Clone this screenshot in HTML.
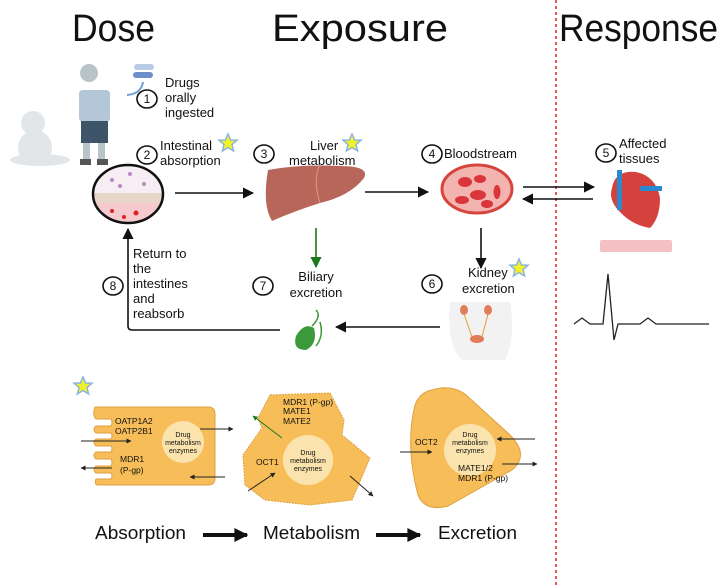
<!DOCTYPE html>
<html><head><meta charset="utf-8"><style>
html,body{margin:0;padding:0;background:#fff}
svg{display:block}
text{font-family:"Liberation Sans",sans-serif;fill:#111}
</style></head><body>
<svg width="726" height="587" viewBox="0 0 726 587" xmlns="http://www.w3.org/2000/svg">
<defs>
<marker id="a" viewBox="0 0 10 10" refX="9" refY="5" markerWidth="7" markerHeight="7" orient="auto"><path d="M0,0 L10,5 L0,10 z" fill="#111"/></marker>
<marker id="t" viewBox="0 0 10 10" refX="9" refY="5" markerUnits="userSpaceOnUse" markerWidth="16" markerHeight="14" orient="auto"><path d="M0,0 L10,5 L0,10 z" fill="#111"/></marker>
<marker id="g" viewBox="0 0 10 10" refX="9" refY="5" markerWidth="7" markerHeight="7" orient="auto"><path d="M0,0 L10,5 L0,10 z" fill="#1a7a1a"/></marker>
<marker id="s" viewBox="0 0 10 10" refX="9" refY="5" markerWidth="5" markerHeight="5" orient="auto"><path d="M0,0 L10,5 L0,10 z" fill="#222"/></marker>
<marker id="gs" viewBox="0 0 10 10" refX="9" refY="5" markerWidth="5" markerHeight="5" orient="auto"><path d="M0,0 L10,5 L0,10 z" fill="#1a7a1a"/></marker>
<g id="star"><polygon points="0,-9 2.6,-3 9,-2.8 4,1.5 5.6,8 0,4.5 -5.6,8 -4,1.5 -9,-2.8 -2.6,-3" fill="#f2f22a" stroke="#8ab4e0" stroke-width="1.5"/></g>
</defs>

<text x="72" y="41" font-size="38" textLength="83" lengthAdjust="spacingAndGlyphs">Dose</text>
<text x="272" y="41" font-size="38" textLength="176" lengthAdjust="spacingAndGlyphs">Exposure</text>
<text x="559" y="41" font-size="38" textLength="159" lengthAdjust="spacingAndGlyphs">Response</text>
<line x1="556" y1="0" x2="556" y2="587" stroke="#e02020" stroke-width="1.5" stroke-dasharray="3,3"/>

<!-- baby -->
<g fill="#e2e6e9">
<circle cx="33" cy="123" r="12"/>
<ellipse cx="35" cy="148" rx="17" ry="18"/>
<ellipse cx="40" cy="160" rx="30" ry="6"/>
</g>
<!-- child -->
<circle cx="89" cy="73" r="9" fill="#b9c4c8"/>
<rect x="79" y="90" width="31" height="32" rx="4" fill="#b3c7d9"/>
<rect x="81" y="121" width="27" height="22" fill="#3e5468"/>
<rect x="83" y="143" width="7" height="18" fill="#b9c4c8"/><rect x="98" y="143" width="7" height="18" fill="#b9c4c8"/>
<rect x="80" y="159" width="11" height="6" fill="#555"/><rect x="97" y="159" width="11" height="6" fill="#555"/>
<rect x="134" y="64" width="20" height="6" rx="3" fill="#b7cde6"/>
<rect x="133" y="72" width="20" height="6" rx="3" fill="#6f8fca"/>
<path d="M143,82 Q141,94 127,95" stroke="#6f9fd8" stroke-width="2" fill="none"/>

<g fill="none" stroke="#111" stroke-width="1.6">
<ellipse cx="147" cy="99" rx="10" ry="9"/>
<ellipse cx="147" cy="155" rx="10" ry="9"/>
<ellipse cx="264" cy="154" rx="10" ry="9"/>
<ellipse cx="432" cy="154" rx="10" ry="9"/>
<ellipse cx="606" cy="153" rx="10" ry="9"/>
<ellipse cx="432" cy="284" rx="10" ry="9"/>
<ellipse cx="263" cy="286" rx="10" ry="9"/>
<ellipse cx="113" cy="286" rx="10" ry="9"/>
</g>
<g font-size="12" text-anchor="middle">
<text x="147" y="103">1</text><text x="147" y="159">2</text><text x="264" y="158">3</text>
<text x="432" y="158">4</text><text x="606" y="157">5</text><text x="432" y="288">6</text>
<text x="263" y="290">7</text><text x="113" y="290">8</text>
</g>
<g font-size="13">
<text x="165" y="87">Drugs</text><text x="165" y="102">orally</text><text x="165" y="117">ingested</text>
<text x="160" y="150">Intestinal</text><text x="160" y="165">absorption</text>
<text x="310" y="150">Liver</text><text x="289" y="165">metabolism</text>
<text x="444" y="158">Bloodstream</text>
<text x="619" y="148">Affected</text><text x="619" y="163">tissues</text>
<text x="316" y="281" text-anchor="middle">Biliary</text><text x="316" y="297" text-anchor="middle">excretion</text>
<text x="468" y="277">Kidney</text><text x="462" y="293">excretion</text>
<text x="133" y="258">Return to</text><text x="133" y="273">the</text><text x="133" y="288">intestines</text><text x="133" y="303">and</text><text x="133" y="318">reabsorb</text>
</g>
<use href="#star" x="228" y="143"/><use href="#star" x="352" y="143"/><use href="#star" x="519" y="268"/><use href="#star" x="83" y="386"/>

<!-- intestine -->
<ellipse cx="128" cy="194" rx="35" ry="29" fill="#f7eef3"/>
<clipPath id="ic"><ellipse cx="128" cy="194" rx="35" ry="29"/></clipPath>
<g clip-path="url(#ic)">
<rect x="90" y="193" width="76" height="10" fill="#e8d6c8"/>
<rect x="90" y="203" width="76" height="22" fill="#f6c9cf"/>
</g>
<g fill="#b98bc6"><circle cx="112" cy="180" r="2"/><circle cx="130" cy="174" r="2"/><circle cx="144" cy="184" r="2"/><circle cx="120" cy="186" r="2"/></g>
<g fill="#d22"><circle cx="112" cy="211" r="2"/><circle cx="136" cy="213" r="2.5"/><circle cx="124" cy="217" r="2"/></g>
<ellipse cx="128" cy="194" rx="35" ry="29" fill="none" stroke="#111" stroke-width="2.5"/>

<!-- liver -->
<path d="M268,170 Q300,164 340,166 Q370,166 364,178 Q350,196 320,203 Q292,212 272,221 Q262,205 268,170 z" fill="#b8665a"/>
<path d="M319,166 Q313,182 320,203" stroke="#d99a80" fill="none"/>

<!-- blood -->
<ellipse cx="477" cy="189" rx="35" ry="24" fill="#f3b4b0" stroke="#d5453e" stroke-width="3"/>
<g fill="#d9353b"><ellipse cx="465" cy="182" rx="7" ry="5"/><ellipse cx="480" cy="179" rx="6" ry="4"/><ellipse cx="478" cy="195" rx="8" ry="5"/><ellipse cx="462" cy="200" rx="7" ry="4"/><ellipse cx="497" cy="192" rx="3.5" ry="7"/><ellipse cx="487" cy="204" rx="6" ry="4"/></g>

<!-- heart -->
<path d="M612,188 Q615,170 636,172 Q656,176 660,198 Q660,218 650,228 Q632,225 620,212 Q608,200 612,188 z" fill="#d5423e"/>
<rect x="617" y="170" width="5" height="40" fill="#2a8ad0"/><rect x="640" y="186" width="22" height="5" fill="#2a8ad0"/>
<rect x="600" y="240" width="72" height="12" rx="2" fill="#f5c0c4"/>
<polyline points="574,324 582,318 590,324 603,324 608,274 614,340 618,324 640,324 648,318 656,324 709,324" fill="none" stroke="#222" stroke-width="1.3"/>

<!-- kidney body -->
<path d="M450,302 Q446,345 462,360 L505,360 Q516,340 510,302 z" fill="#f2f2f2"/>
<g fill="#e07c5a"><ellipse cx="464" cy="310" rx="4" ry="5"/><ellipse cx="488" cy="310" rx="4" ry="5"/><ellipse cx="477" cy="339" rx="7" ry="4"/></g>
<path d="M464,314 L472,337 M488,314 L482,337" stroke="#e0a030" fill="none"/>
<!-- gallbladder -->
<path d="M296,336 Q292,350 306,350 Q318,344 314,328 Q304,322 296,336 z" fill="#3c9a3c"/>
<path d="M312,326 Q322,316 316,310 M316,346 Q324,336 320,322" stroke="#3c9a3c" fill="none" stroke-width="1.5"/>

<g stroke="#111" stroke-width="1.6" fill="none" marker-end="url(#a)">
<line x1="175" y1="193" x2="253" y2="193"/>
<line x1="365" y1="192" x2="428" y2="192"/>
<line x1="523" y1="187" x2="594" y2="187"/>
<line x1="593" y1="199" x2="523" y2="199"/>
<line x1="481" y1="228" x2="481" y2="268"/>
<line x1="440" y1="327" x2="336" y2="327"/>
<path d="M280,330 L132,330 Q128,330 128,326 L128,229"/>
</g>
<line x1="316" y1="228" x2="316" y2="267" stroke="#1a7a1a" stroke-width="1.6" marker-end="url(#g)"/>

<!-- bottom cells -->
<path d="M95,407 L208,407 Q215,407 215,414 L215,478 Q215,485 208,485 L98,485 Q94,485 96,479 L111,479 Q113,475 111,473 L96,473 Q92,469 96,466 L111,466 Q113,462 111,459 L96,459 Q92,455 96,452 L111,452 Q113,448 111,446 L96,446 Q92,442 96,439 L111,439 Q113,435 111,433 L96,433 Q92,429 96,426 L111,426 Q113,422 111,419 L96,419 Q92,415 95,407 z" fill="#f6bd58" stroke="#e0a040"/>
<circle cx="183" cy="442" r="21" fill="#fbe3ad"/>
<path d="M270,395 L330,393 L344,420 L342,435 L370,458 L352,500 L310,505 L265,500 L245,485 L243,455 L262,428 L258,418 z" fill="#f6bd58" stroke="#e0a040" stroke-dasharray="2,1"/>
<circle cx="308" cy="460" r="25" fill="#fbe3ad"/>
<path d="M432,390 Q450,384 465,394 L510,435 Q530,455 512,470 L448,506 Q425,512 418,495 Q405,445 415,405 Q420,392 432,390 z" fill="#f6bd58" stroke="#e0a040"/>
<circle cx="470" cy="450" r="26" fill="#fbe3ad"/>

<g font-size="7" text-anchor="middle" fill="#333">
<text x="183" y="437">Drug</text><text x="183" y="445">metabolism</text><text x="183" y="453">enzymes</text>
<text x="308" y="455">Drug</text><text x="308" y="463">metabolism</text><text x="308" y="471">enzymes</text>
<text x="470" y="437">Drug</text><text x="470" y="445">metabolism</text><text x="470" y="453">enzymes</text>
</g>
<g font-size="8.5" fill="#333">
<text x="115" y="424">OATP1A2</text><text x="115" y="434">OATP2B1</text>
<text x="120" y="462">MDR1</text><text x="120" y="473">(P-gp)</text>
<text x="283" y="405">MDR1 (P-gp)</text><text x="283" y="414">MATE1</text><text x="283" y="424">MATE2</text>
<text x="256" y="465">OCT1</text>
<text x="415" y="445">OCT2</text>
<text x="458" y="471">MATE1/2</text><text x="458" y="481">MDR1 (P-gp)</text>
</g>
<g stroke="#222" stroke-width="1" marker-end="url(#s)">
<line x1="81" y1="441" x2="131" y2="441"/>
<line x1="112" y1="468" x2="81" y2="468"/>
<line x1="200" y1="429" x2="233" y2="429"/>
<line x1="225" y1="477" x2="190" y2="477"/>
<line x1="248" y1="491" x2="275" y2="473"/>
<line x1="350" y1="476" x2="373" y2="496"/>
<line x1="400" y1="452" x2="432" y2="452"/>
<line x1="535" y1="439" x2="497" y2="439"/>
<line x1="502" y1="464" x2="537" y2="464"/>
</g>
<line x1="282" y1="438" x2="253" y2="416" stroke="#1a7a1a" stroke-width="1" marker-end="url(#gs)"/>

<g font-size="18">
<text x="95" y="539" textLength="91" lengthAdjust="spacingAndGlyphs">Absorption</text>
<text x="263" y="539" textLength="97" lengthAdjust="spacingAndGlyphs">Metabolism</text>
<text x="438" y="539" textLength="79" lengthAdjust="spacingAndGlyphs">Excretion</text>
</g>
<g stroke="#111" stroke-width="4" marker-end="url(#t)">
<line x1="203" y1="535" x2="247" y2="535"/>
<line x1="376" y1="535" x2="420" y2="535"/>
</g>
</svg>
</body></html>
